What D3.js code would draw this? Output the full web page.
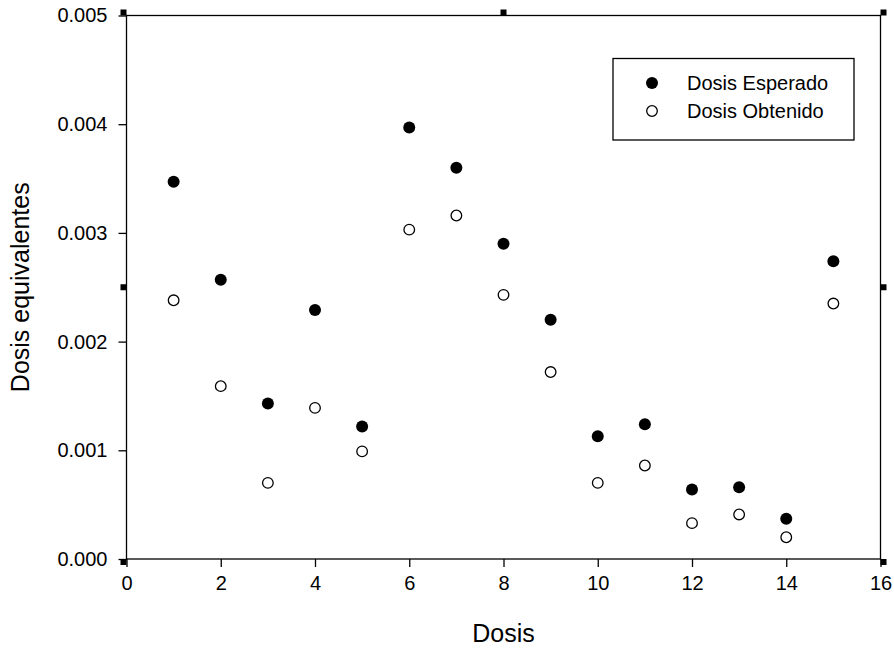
<!DOCTYPE html>
<html>
<head>
<meta charset="utf-8">
<script src="https://cdn.jsdelivr.net/npm/d3@7"></script>
<style>
  body { margin: 0; background: #fff; }
  text { font-family: Arial, "Liberation Sans", sans-serif; fill: #000; }
</style>
</head>
<body>
<svg id="chart"></svg>
<script>
// data
let dosis = [1, 2, 3, 4, 5, 6, 7, 8, 9, 10, 11, 12, 13, 14, 15]
let esperado = [0.00347, 0.00257, 0.00143, 0.00229, 0.00122, 0.00397, 0.00360, 0.00290, 0.00220, 0.00113, 0.00124, 0.00064, 0.00066, 0.00037, 0.00274]
let obtenido = [0.00238, 0.00159, 0.00070, 0.00139, 0.00099, 0.00303, 0.00316, 0.00243, 0.00172, 0.00070, 0.00086, 0.00033, 0.00041, 0.00020, 0.00235]
let xTicks = [0, 2, 4, 6, 8, 10, 12, 14, 16]
let yTicks = [0, 0.001, 0.002, 0.003, 0.004, 0.005]
let seriesNames = ["Dosis Esperado", "Dosis Obtenido"]

let width = 894
let height = 650
let margin = { top: 15.5, right: 13.5, bottom: 91, left: 126.5 }

let svg = d3.select("#chart")
    .attr("width", width)
    .attr("height", height)

let x = d3.scaleLinear().domain([0, 16]).range([margin.left, width - margin.right])
let y = d3.scaleLinear().domain([0, 0.005]).range([height - margin.bottom, margin.top])

// frame
svg.append("rect")
    .attr("x", x(0))
    .attr("y", y(0.005))
    .attr("width", x(16) - x(0))
    .attr("height", y(0) - y(0.005))
    .attr("fill", "none")
    .attr("stroke", "#000")
    .attr("stroke-width", 1.3)

// bottom axis
let xAxis = svg.append("g")
    .attr("transform", "translate(0," + y(0) + ")")
    .call(d3.axisBottom(x).tickValues(xTicks).tickSize(8).tickPadding(9).tickSizeOuter(0))
xAxis.select(".domain").remove()
xAxis.selectAll("line").attr("stroke-width", 1.3)
xAxis.selectAll("text").style("font-size", "20px").attr("fill", "#000")

// left axis
let yAxis = svg.append("g")
    .attr("transform", "translate(" + x(0) + ",0)")
    .call(d3.axisLeft(y).tickValues(yTicks).tickFormat(d3.format(".3f")).tickSize(8).tickPadding(11).tickSizeOuter(0))
yAxis.select(".domain").remove()
yAxis.selectAll("line").attr("stroke-width", 1.3)
yAxis.selectAll("text").style("font-size", "20px").attr("fill", "#000")

// small square handles round the frame
let handles = [
    [0, 0.005, -1, -1], [8, 0.005, 0, -1], [16, 0.005, 1, -1],
    [0, 0.0025, -1, 0], [16, 0.0025, 1, 0],
    [0, 0, -1, 1], [16, 0, 1, 1]
]
let hs = 6
svg.selectAll(".handle")
    .data(handles)
    .enter()
    .append("rect")
    .attr("class", "handle")
    .attr("x", d => x(d[0]) + (d[2] == 0 ? -hs / 2 : (d[2] < 0 ? -hs : 0)))
    .attr("y", d => y(d[1]) + (d[3] == 0 ? -hs / 2 : (d[3] < 0 ? -hs : 0)))
    .attr("width", hs)
    .attr("height", hs)
    .attr("fill", "#000")

// axis titles
svg.append("text")
    .attr("x", x(8))
    .attr("y", 642)
    .attr("text-anchor", "middle")
    .style("font-size", "25px")
    .text("Dosis")

svg.append("text")
    .attr("transform", "translate(29," + (y(0.0025)) + ") rotate(-90)")
    .attr("text-anchor", "middle")
    .style("font-size", "25px")
    .text("Dosis equivalentes")

// points
svg.selectAll(".esp")
    .data(dosis)
    .enter()
    .append("circle")
    .attr("class", "esp")
    .attr("cx", d => x(d))
    .attr("cy", (d, i) => y(esperado[i]))
    .attr("r", 6)
    .attr("fill", "#000")

svg.selectAll(".obt")
    .data(dosis)
    .enter()
    .append("circle")
    .attr("class", "obt")
    .attr("cx", d => x(d))
    .attr("cy", (d, i) => y(obtenido[i]))
    .attr("r", 5.3)
    .attr("fill", "#fff")
    .attr("stroke", "#000")
    .attr("stroke-width", 1.3)

// legend
let legend = svg.append("g")
svg.append("rect")
    .attr("x", 613)
    .attr("y", 58.5)
    .attr("width", 241)
    .attr("height", 81.5)
    .attr("fill", "none")
    .attr("stroke", "#000")
    .attr("stroke-width", 1.3)

seriesNames.forEach(function (name, i) {
    let ly = 83 + i * 28
    legend.append("circle")
        .attr("cx", 652)
        .attr("cy", ly)
        .attr("r", i == 0 ? 6 : 5.3)
        .attr("fill", i == 0 ? "#000" : "#fff")
        .attr("stroke", "#000")
        .attr("stroke-width", i == 0 ? 0 : 1.3)
    legend.append("text")
        .attr("x", 687)
        .attr("y", ly)
        .attr("dy", "0.35em")
        .style("font-size", "20px")
        .text(name)
})
</script>
</body>
</html>
